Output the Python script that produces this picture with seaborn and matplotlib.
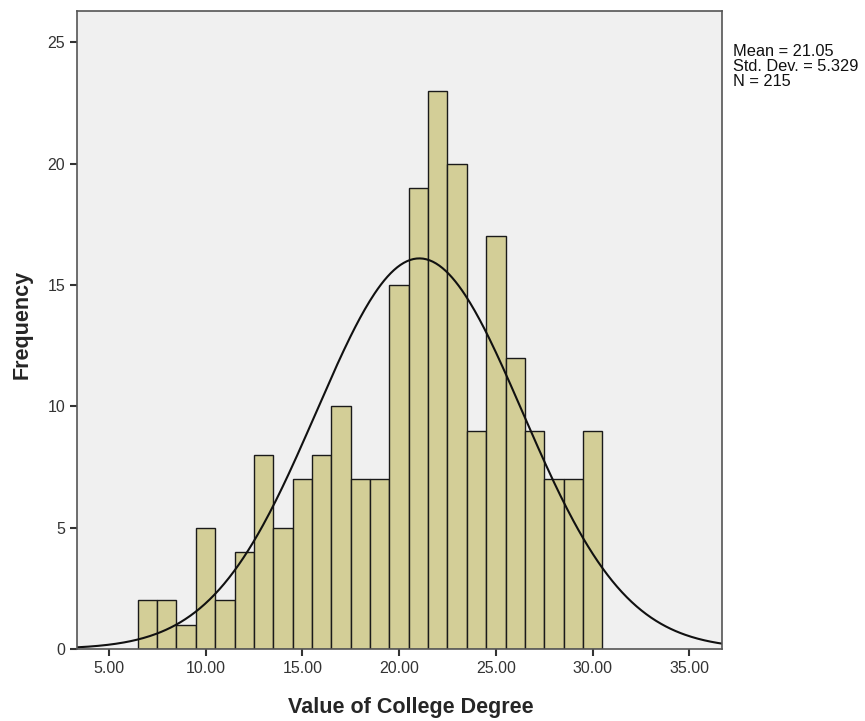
import numpy as np
import pandas as pd
import matplotlib
matplotlib.use('Agg')
import matplotlib.pyplot as plt
import seaborn as sns

# Histogram: bin centres and frequencies (bin width 1)
bin_centers = [7, 8, 9, 10, 11, 12, 13, 14, 15, 16, 17, 18,
               19, 20, 21, 22, 23, 24, 25, 26, 27, 28, 29, 30]
frequencies = [2, 2, 1, 5, 2, 4, 8, 5, 7, 8, 10, 7,
               7, 15, 19, 23, 20, 9, 17, 12, 9, 7, 7, 9]
bin_edges = [6.5 + i for i in range(25)]

mean_val = 21.05
sd_val = 5.329
n_val = 215

x_ticks = [5, 10, 15, 20, 25, 30, 35]
x_ticklabels = ['5.00', '10.00', '15.00', '20.00', '25.00', '30.00', '35.00']
y_ticks = [0, 5, 10, 15, 20, 25]

df = pd.DataFrame({'value': bin_centers, 'count': frequencies})

sns.set_style('white')
plt.rcParams['font.family'] = ['Liberation Sans', 'DejaVu Sans']

fig = plt.figure(figsize=(8.65, 7.21), dpi=100)
ax = fig.add_axes([0.089, 0.10, 0.746, 0.885])
ax.set_facecolor('#F0F0F0')

sns.histplot(data=df, x='value', weights='count', bins=bin_edges,
             color='#D3CE97', edgecolor='#1a1a1a', linewidth=1.0,
             alpha=1.0, ax=ax)

# Normal curve from the reported statistics
xs = np.linspace(3.36, 36.7, 400)
ys = n_val * 1.0 / (sd_val * np.sqrt(2 * np.pi)) * np.exp(-0.5 * ((xs - mean_val) / sd_val) ** 2)
sns.lineplot(x=xs, y=ys, color='#111111', linewidth=1.5, ax=ax)

ax.set_xlim(3.36, 36.7)
ax.set_ylim(0, 26.3)
ax.set_xticks(x_ticks)
ax.set_xticklabels(x_ticklabels)
ax.set_yticks(y_ticks)
ax.tick_params(axis='both', direction='out', length=5, width=1.5,
               color='#333333', labelsize=11.5, labelcolor='#333333',
               bottom=True, left=True)

for s in ax.spines.values():
    s.set_color('#555555')
    s.set_linewidth(1.2)

ax.set_xlabel('Value of College Degree', fontsize=15.5, fontweight='bold', labelpad=15)
ax.set_ylabel('Frequency', fontsize=15.5, fontweight='bold', labelpad=11)
# labels sit slightly off-centre in the original
ax.xaxis.label.set_x(0.518)
ax.yaxis.label.set_y(0.509)

fig.text(733 / 865, 1 - 44 / 721,
         'Mean = 21.05\nStd. Dev. = 5.329\nN = 215',
         fontsize=11.8, va='top', ha='left', color='#111111', linespacing=0.98)

fig.savefig('out.png', dpi=100)
